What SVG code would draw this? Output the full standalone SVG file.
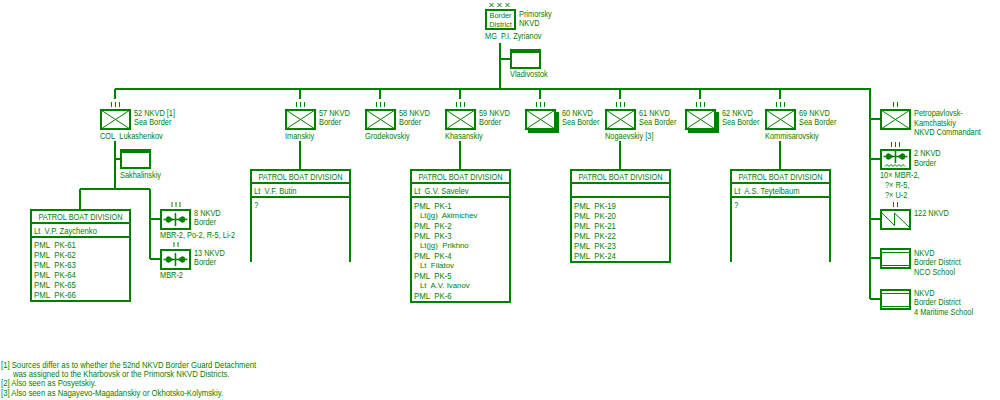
<svg xmlns="http://www.w3.org/2000/svg" width="1000" height="400" viewBox="0 0 1000 400">
<style>
.ln{stroke:#008000;stroke-width:2;fill:none}
.fr{stroke:#008000;stroke-width:2;fill:#fff}
.th{stroke:#008000;stroke-width:1;fill:none}
.fl{fill:#008000;stroke:none}
text{font-family:"Liberation Sans","DejaVu Sans",sans-serif;fill:#008000;font-size:8.5px;transform-box:fill-box;transform-origin:0 0;transform:scaleX(.87)}
.c{text-anchor:middle;transform-origin:50% 0}
.bd{font-size:8px;transform:scaleX(.92)}
.li{font-size:9.5px;transform:scaleX(.82)}
.nm{font-size:8.5px;transform:scaleX(.9)}
.in{font-size:8px;transform:scaleX(.98)}
.fn{font-size:8.5px;transform:scaleX(.91)}
</style>
<defs>
<g id="air">
<path class="th" style="stroke-width:1.5" d="M-12,0H12M0,-6.5V6.5"/>
<path class="fl" d="M-2,0L-6.5,-3.2A3.2,3.2 0 0,0 -6.5,3.2Z"/>
<path class="fl" d="M2,0L6.5,-3.2A3.2,3.2 0 0,1 6.5,3.2Z"/>
</g>
<g id="inf">
<rect class="fr" x="-14" y="-9" width="29" height="19"/>
<path class="th" d="M-14,-9L15,10M-14,10L15,-9"/>
</g>
<path id="e3" class="th" d="M-3.5,-17V-12M0.5,-17V-12M4.5,-17V-12"/>
<path id="e2" class="th" d="M-1.5,-17V-12M2.5,-17V-12"/>
</defs>

<g id="connectors">
<path class="ln" d="M500,43V89M500,59H510M115,89H871"/>
<path class="ln" d="M115,89V99M300,89V99M380,89V99M460,89V99M540,89V99M620,89V99M700,89V99M780,89V99"/>
<path class="ln" d="M115,141V189M115,159H120M80,189H150M80,189V209M150,189V259M150,219H160M150,259H160"/>
<path class="ln" d="M300,141V169M460,141V169M620,141V169M780,141V169"/>
<path class="ln" d="M870,89V299M870,119H880M870,159H880M870,219H880M870,258H880M870,299H880"/>
</g>

<g id="district">
<rect class="fr" x="486" y="10" width="29" height="19"/>
<path class="th" d="M489.5,3l4,4m0,-4l-4,4M497.5,3l4,4m0,-4l-4,4M505.5,3l4,4m0,-4l-4,4"/>
<text class="c bd" x="500.5" y="18.5">Border</text>
<text class="c bd" x="500.5" y="27">District</text>
<text x="519" y="17">Primorsky</text>
<text x="519" y="26">NKVD</text>
<text x="485" y="39">MG&#160; P.I. Zyrianov</text>
</g>

<g id="vladivostok">
<rect class="fr" x="511" y="50" width="29" height="18"/>
<rect class="fl" x="510" y="49" width="31" height="4"/>
<text x="510" y="77">Vladivostok</text>
</g>

<g id="b52" transform="translate(115,119)">
<use href="#e3"/><use href="#inf"/>
<text x="19" y="-3">52 NKVD [1]</text>
<text x="19" y="6">Sea Border</text>
<text x="-15" y="20">COL&#160; Lukashenkov</text>
</g>

<g id="sakhalinskiy">
<rect class="fr" x="121" y="150" width="29" height="18"/>
<rect class="fl" x="120" y="149" width="31" height="4"/>
<text x="120" y="178">Sakhalinskiy</text>
</g>

<g id="b57" transform="translate(300,119)">
<use href="#e3"/><use href="#inf"/>
<text x="19" y="-3">57 NKVD</text>
<text x="19" y="6">Border</text>
<text x="-15" y="20">Imanskiy</text>
</g>
<g id="b58" transform="translate(380,119)">
<use href="#e3"/><use href="#inf"/>
<text x="19" y="-3">58 NKVD</text>
<text x="19" y="6">Border</text>
<text x="-15" y="20">Grodekovskiy</text>
</g>
<g id="b59" transform="translate(460,119)">
<use href="#e3"/><use href="#inf"/>
<text x="19" y="-3">59 NKVD</text>
<text x="19" y="6">Border</text>
<text x="-15" y="20">Khasanskiy</text>
</g>
<g id="b60" transform="translate(540,119)">
<use href="#e3"/>
<rect class="fl" x="-12" y="-7" width="31" height="21"/>
<use href="#inf"/>
<text x="22" y="-3">60 NKVD</text>
<text x="22" y="6">Sea Border</text>
</g>
<g id="b61" transform="translate(620,119)">
<use href="#e3"/><use href="#inf"/>
<text x="19" y="-3">61 NKVD</text>
<text x="19" y="6">Sea Border</text>
<text x="-15" y="20">Nogaevskiy [3]</text>
</g>
<g id="b62" transform="translate(700,119)">
<use href="#e3"/>
<rect class="fl" x="-12" y="-7" width="31" height="21"/>
<use href="#inf"/>
<text x="22" y="-3">62 NKVD</text>
<text x="22" y="6">Sea Border</text>
</g>
<g id="b69" transform="translate(780,119)">
<use href="#e3"/><use href="#inf"/>
<text x="19" y="-3">69 NKVD</text>
<text x="19" y="6">Sea Border</text>
<text x="-15" y="20">Kommisarovskiy</text>
</g>

<g id="pbd52">
<rect class="fr" x="31" y="210" width="99" height="91"/>
<path class="ln" d="M31,223H130M31,237H130"/>
<text class="c" x="80.5" y="220">PATROL BOAT DIVISION</text>
<text class="nm" x="34" y="234">Lt&#160; V.P. Zaychenko</text>
<text class="li" x="34" y="248">PML&#160; PK-61</text>
<text class="li" x="34" y="258">PML&#160; PK-62</text>
<text class="li" x="34" y="268">PML&#160; PK-63</text>
<text class="li" x="34" y="278">PML&#160; PK-64</text>
<text class="li" x="34" y="288">PML&#160; PK-65</text>
<text class="li" x="34" y="298">PML&#160; PK-66</text>
</g>

<g id="a8" transform="translate(175.5,219)">
<use href="#e3"/>
<rect class="fr" x="-14.5" y="-9" width="29" height="19"/>
<use href="#air" y="0.5"/>
<text x="18.5" y="-3">8 NKVD</text>
<text x="18.5" y="6">Border</text>
<text x="-15.5" y="19">MBR-2, Po-2, R-5, Li-2</text>
</g>
<g id="a13" transform="translate(175.5,259)">
<use href="#e2"/>
<rect class="fr" x="-14.5" y="-9" width="29" height="19"/>
<use href="#air" y="0.5"/>
<text x="18.5" y="-3">13 NKVD</text>
<text x="18.5" y="6">Border</text>
<text x="-15.5" y="19">MBR-2</text>
</g>

<g id="pbd57">
<path class="ln" d="M251,262V170H350V262M251,183H350M251,197H350"/>
<text class="c" x="300.5" y="180">PATROL BOAT DIVISION</text>
<text class="nm" x="254" y="194">Lt&#160; V.F. Butin</text>
<text class="li" x="254" y="208">?</text>
</g>

<g id="pbd59">
<rect class="fr" x="411" y="170" width="99" height="132"/>
<path class="ln" d="M411,183H510M411,197H510"/>
<text class="c" x="460.5" y="180">PATROL BOAT DIVISION</text>
<text class="nm" x="414" y="194">Lt&#160; G.V. Savelev</text>
<text class="li" x="414" y="209">PML&#160; PK-1</text>
<text class="in" x="420" y="218">Lt(jg)&#160; Akimichev</text>
<text class="li" x="414" y="229">PML&#160; PK-2</text>
<text class="li" x="414" y="239">PML&#160; PK-3</text>
<text class="in" x="420" y="248">Lt(jg)&#160; Prikhno</text>
<text class="li" x="414" y="259">PML&#160; PK-4</text>
<text class="in" x="420" y="268">Lt&#160; Filatov</text>
<text class="li" x="414" y="279">PML&#160; PK-5</text>
<text class="in" x="420" y="288">Lt&#160; A.V. Ivanov</text>
<text class="li" x="414" y="299">PML&#160; PK-6</text>
</g>

<g id="pbd61">
<rect class="fr" x="571" y="170" width="99" height="92"/>
<path class="ln" d="M571,183H670M571,197H670"/>
<text class="c" x="620.5" y="180">PATROL BOAT DIVISION</text>
<text class="li" x="574" y="209">PML&#160; PK-19</text>
<text class="li" x="574" y="219">PML&#160; PK-20</text>
<text class="li" x="574" y="229">PML&#160; PK-21</text>
<text class="li" x="574" y="239">PML&#160; PK-22</text>
<text class="li" x="574" y="249">PML&#160; PK-23</text>
<text class="li" x="574" y="259">PML&#160; PK-24</text>
</g>

<g id="pbd69">
<path class="ln" d="M731,262V170H830V262M731,183H830M731,197H830"/>
<text class="c" x="780.5" y="180">PATROL BOAT DIVISION</text>
<text class="nm" x="734" y="194">Lt&#160; A.S. Teytelbaum</text>
<text class="li" x="734" y="208">?</text>
</g>

<g id="petropavlovsk" transform="translate(895,119)">
<use href="#e2"/><use href="#inf"/>
<text x="19" y="-3">Petropavlovsk-</text>
<text x="19" y="6.5">Kamchatskiy</text>
<text x="19" y="16">NKVD Commandant</text>
</g>

<g id="a2" transform="translate(895,159)">
<use href="#e3"/>
<rect class="fr" x="-14" y="-9" width="29" height="19"/>
<use href="#air" x="0.5" y="-2.5"/>
<path class="th" d="M-10,7.5l2,-2l2,2l2,-2l2,2l2,-2l2,2l2,-2l2,2l2,-2l2,2"/>
<text x="19" y="-3">2 NKVD</text>
<text x="19" y="6.5">Border</text>
<text x="-15" y="19">10× MBR-2,</text>
<text x="-10" y="29">?× R-5,</text>
<text x="-10" y="39">?× U-2</text>
</g>

<g id="s122" transform="translate(895,219)">
<use href="#e2"/>
<rect class="fr" x="-14" y="-9" width="29" height="19"/>
<path class="th" d="M-13,-6L-0.5,6.5V-6L14,8"/>
<text x="19" y="-3">122 NKVD</text>
</g>

<g id="nco">
<rect class="fr" x="881" y="249" width="29" height="19"/>
<path class="th" d="M881,252.5H910M881,265.5H910"/>
<text x="914" y="256">NKVD</text>
<text x="914" y="265.5">Border District</text>
<text x="914" y="275">NCO School</text>
</g>

<g id="maritime">
<rect class="fr" x="881" y="290" width="29" height="19"/>
<path class="th" d="M881,293.5H910M881,306.5H910"/>
<text x="914" y="296">NKVD</text>
<text x="914" y="305.5">Border District</text>
<text x="914" y="315">4 Maritime School</text>
</g>

<g id="footnotes">
<text class="fn" x="1" y="368">[1] Sources differ as to whether the 52nd NKVD Border Guard Detachment</text>
<text class="fn" x="13" y="377">was assigned to the Kharbovsk or the Primorsk NKVD Districts.</text>
<text class="fn" x="1" y="386.5">[2] Also seen as Posyetskiy.</text>
<text class="fn" x="1" y="396">[3] Also seen as Nagayevo-Magadanskiy or Okhotsko-Kolymskiy.</text>
</g>
</svg>
